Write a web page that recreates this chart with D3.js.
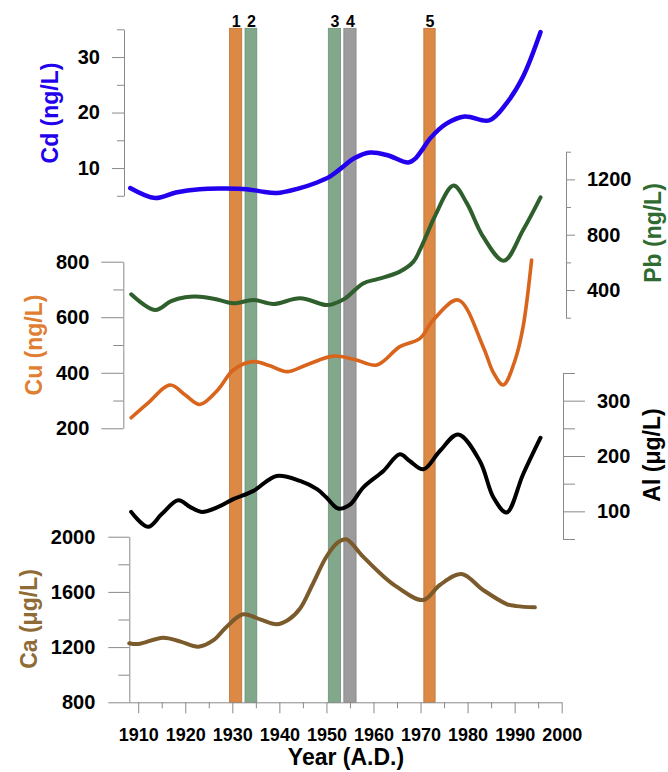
<!DOCTYPE html>
<html>
<head>
<meta charset="utf-8">
<script src="https://cdn.jsdelivr.net/npm/d3@7"></script>
<style>
  html, body { margin: 0; padding: 0; background: #fff; }
  svg { display: block; font-family: "Liberation Sans", Arial, sans-serif; font-weight: bold; }
</style>
</head>
<body>
<svg id="chart" width="668" height="772"></svg>
<script>
// ---------------- DATA ----------------
const xTickYears = [1910, 1920, 1930, 1940, 1950, 1960, 1970, 1980, 1990, 2000];

const cdYears  = [1908.3, 1913.6, 1918, 1923, 1928, 1933, 1936, 1939.4, 1944, 1948, 1950.8, 1952.9, 1956, 1959.3, 1963, 1967.4, 1969, 1970.6, 1972, 1975.5, 1979.4, 1984.6, 1988.3, 1991.8, 1995.5];
const cdValues = [6.4, 4.6, 5.6, 6.2, 6.3, 6.2, 5.8, 5.5, 6.3, 7.4, 8.5, 9.8, 11.8, 12.8, 12.3, 11.0, 11.8, 13.6, 15.3, 18.0, 19.3, 18.6, 21.7, 26.5, 34.5];

const pbYears  = [1908.5, 1913.6, 1917, 1920, 1923.1, 1927, 1930.2, 1934.5, 1938.7, 1944.4, 1950, 1951.5, 1954, 1957.8, 1961, 1965.6, 1968.5, 1970, 1971.5, 1973, 1977, 1979.8, 1983.3, 1987.7, 1991.8, 1995.5];
const pbValues = [369, 255, 320, 348, 352, 330, 304, 328, 299, 340, 291, 300, 340, 448, 480, 533, 605, 700, 815, 930, 1155, 1030, 786, 612, 834, 1070];

const cuYears  = [1908.5, 1912, 1916.8, 1920, 1923.1, 1927, 1930.2, 1934.5, 1938, 1941.6, 1946, 1951.5, 1956, 1960.7, 1965.6, 1969.9, 1972.7, 1978, 1983.3, 1985.5, 1987.6, 1990.1, 1991.8, 1993.6];
const cuValues = [238, 290, 356, 320, 286, 340, 410, 440, 425, 404, 430, 460, 448, 428, 494, 524, 590, 662, 494, 400, 356, 446, 566, 806];

const alYears  = [1908.5, 1912.1, 1915, 1918.5, 1921, 1923.5, 1927, 1930.2, 1934.5, 1939.4, 1944.4, 1948, 1950, 1952.5, 1955, 1957.8, 1962.1, 1965.6, 1967.7, 1970.6, 1974.1, 1978, 1982.6, 1985.5, 1988.3, 1991.8, 1995.5];
const alValues = [99, 72, 95, 120, 108, 99, 108, 122, 137, 164, 155, 140, 125, 105, 112, 143, 173, 203, 191, 176, 209, 239, 191, 125, 98, 167, 233];

const caYears  = [1908.1, 1910, 1915.3, 1919, 1922.8, 1926, 1928.8, 1932.3, 1935.9, 1939.4, 1942, 1944.4, 1947, 1950, 1952.5, 1954.2, 1957.8, 1961.4, 1964.9, 1970.6, 1974.1, 1978.7, 1983.3, 1988.3, 1990.4, 1994.3];
const caValues = [1228, 1222, 1268, 1240, 1203, 1250, 1348, 1438, 1401, 1365, 1400, 1480, 1650, 1855, 1960, 1981, 1855, 1735, 1638, 1541, 1650, 1730, 1614, 1512, 1497, 1488];

const barLabels = ["1", "2", "3", "4", "5"];
const barStart  = [1929.4, 1932.7, 1950.4, 1953.7, 1970.7];
const barEnd    = [1932.0, 1935.2, 1953.0, 1956.3, 1973.1];
const barKinds  = ["orange", "green", "green", "gray", "orange"];

const cdTicks = [10, 20, 30], cdMinor = [5, 15, 25, 35];
const cuTicks = [200, 400, 600, 800], cuMinor = [300, 500, 700];
const caTicks = [800, 1200, 1600, 2000], caMinor = [1000, 1400, 1800];
const pbTicks = [400, 800, 1200], pbMinor = [200, 600, 1000, 1400];
const alTicks = [100, 200, 300], alMinor = [50, 150, 250, 350];

// ---------------- STYLE ----------------
const axisGray = "#8a8a8a";
const barFill = { orange: "#dc8946", green: "#82a88c", gray: "#9c9c9c" };
const barStroke = { orange: "#c07034", green: "#6b9177", gray: "#858585" };

const svg = d3.select("#chart");
svg.append("rect").attr("width", 668).attr("height", 772).attr("fill", "#fff");

const x = d3.scaleLinear().domain([1908, 2000]).range([128.8, 561.7]);
const yCd = d3.scaleLinear().domain([5, 35]).range([195.8, 29.3]);
const yCu = d3.scaleLinear().domain([200, 800]).range([428.3, 261.7]);
const yCa = d3.scaleLinear().domain([800, 2000]).range([702.3, 536.7]);
const yPb = d3.scaleLinear().domain([200, 1400]).range([317.7, 151.7]);
const yAl = d3.scaleLinear().domain([50, 350]).range([539, 373]);

const barTop = 28.3, barBottom = 702.3;

// ---------------- BARS ----------------
const bars = svg.append("g");
barLabels.forEach((lab, i) => {
  bars.append("rect")
    .attr("x", x(barStart[i]))
    .attr("y", barTop)
    .attr("width", x(barEnd[i]) - x(barStart[i]))
    .attr("height", barBottom - barTop)
    .attr("fill", barFill[barKinds[i]])
    .attr("stroke", barStroke[barKinds[i]])
    .attr("stroke-width", 0.8);
  bars.append("text")
    .attr("x", (x(barStart[i]) + x(barEnd[i])) / 2 + 0.5)
    .attr("y", 26.5)
    .attr("text-anchor", "middle")
    .attr("font-size", 16)
    .attr("fill", "#000")
    .text(lab);
});

// ---------------- AXES ----------------
function styleAxis(g, fontSize) {
  g.selectAll(".domain").attr("stroke", axisGray).attr("stroke-width", 1);
  g.selectAll(".tick line").attr("stroke", axisGray).attr("stroke-width", 1);
  g.selectAll(".tick text").attr("fill", "#000").attr("font-size", fontSize)
    .attr("font-family", '"Liberation Sans", Arial, sans-serif').attr("font-weight", "bold");
}

function yAxis(scale, side, xPos, ticks, minor, major, minorLen, pad) {
  const maker = side === "left" ? d3.axisLeft : d3.axisRight;
  const gMin = svg.append("g").attr("transform", `translate(${xPos},0)`)
    .call(maker(scale).tickValues(minor).tickSize(minorLen).tickSizeOuter(0).tickFormat(""));
  styleAxis(gMin, 20);
  const g = svg.append("g").attr("transform", `translate(${xPos},0)`)
    .call(maker(scale).tickValues(ticks).tickSize(major).tickSizeOuter(0).tickPadding(pad).tickFormat(d3.format("d")));
  styleAxis(g, 20);
  g.select(".domain").remove();
}

yAxis(yCd, "left", 124, cdTicks, cdMinor, 12, 7, 12);
yAxis(yCu, "left", 123.3, cuTicks, cuMinor, 22, 10, 12);
yAxis(yCa, "left", 129.3, caTicks, caMinor, 21, 11, 13);
yAxis(yPb, "right", 566, pbTicks, pbMinor, 9, 5, 12);
yAxis(yAl, "right", 563, alTicks, alMinor, 22, 12, 12);

// x axis
const xMinorYears = d3.range(1915, 2000, 10);
const gxMin = svg.append("g").attr("transform", `translate(0,${barBottom})`)
  .call(d3.axisBottom(x).tickValues(xMinorYears).tickSize(6).tickSizeOuter(0).tickFormat(""));
styleAxis(gxMin, 18);
const gx = svg.append("g").attr("transform", `translate(0,${barBottom})`)
  .call(d3.axisBottom(x).tickValues(xTickYears).tickSize(11).tickSizeOuter(0).tickPadding(15).tickFormat(d3.format("d")));
styleAxis(gx, 18);
gx.select(".domain").remove();

svg.append("text")
  .attr("x", 346).attr("y", 765)
  .attr("text-anchor", "middle")
  .attr("font-size", 23)
  .attr("fill", "#000")
  .text("Year (A.D.)");

// ---------------- AXIS TITLES ----------------
function vTitle(txt, cx, cy, color) {
  svg.append("text")
    .attr("transform", `translate(${cx},${cy}) rotate(-90)`)
    .attr("text-anchor", "middle")
    .attr("dy", "0.26em")
    .attr("font-size", 23)
    .attr("fill", color)
    .text(txt);
}
vTitle("Cd (ng/L)", 52, 113, "#2200ee");
vTitle("Cu (ng/L)", 36, 345, "#e07f33");
vTitle("Ca (\u03bcg/L)", 31, 619, "#8f6c36");
vTitle("Pb (ng/L)", 655, 233, "#2f6b30");
vTitle("Al (\u03bcg/L)", 654, 455, "#000");

// ---------------- CURVES ----------------
function curve(years, values, yScale, color, width) {
  const pts = years.map((yr, i) => [yr, values[i]]);
  const line = d3.line()
    .x(d => x(d[0]))
    .y(d => yScale(d[1]))
    .curve(d3.curveCatmullRom.alpha(0.5));
  svg.append("path")
    .datum(pts)
    .attr("d", line)
    .attr("fill", "none")
    .attr("stroke", color)
    .attr("stroke-width", width)
    .attr("stroke-linecap", "round")
    .attr("stroke-linejoin", "round");
}
curve(caYears, caValues, yCa, "#7b5a2b", 4);
curve(alYears, alValues, yAl, "#000000", 4);
curve(cuYears, cuValues, yCu, "#d9641c", 3.6);
curve(pbYears, pbValues, yPb, "#2f5f2d", 4);
curve(cdYears, cdValues, yCd, "#2200ee", 4.5);
</script>
</body>
</html>
